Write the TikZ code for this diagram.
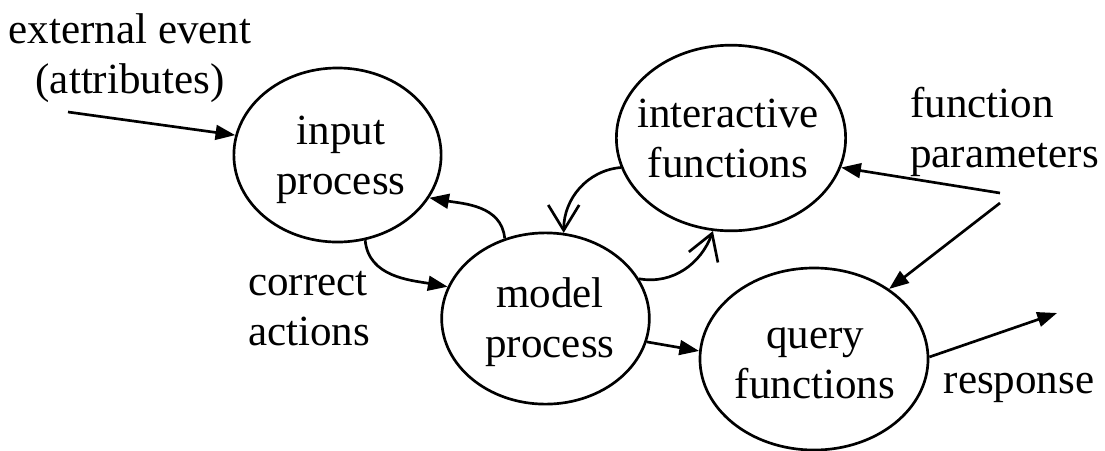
\documentclass[tikz,border=0pt]{standalone}
\usepackage{fontspec}
\setmainfont{Liberation Serif}
\usetikzlibrary{shapes.geometric,arrows.meta}

\begin{document}
\begin{tikzpicture}[
    x=0.025cm, y=-0.025cm,
    font=\fontsize{30.6}{35.6}\selectfont,
    arr/.style={-{Triangle[length=14pt,width=10.5pt]}, line width=1.9pt},
    barb/.style={-{Straight Barb[length=18pt,width=22pt]}, line width=1.9pt},
    proc/.style={draw, ellipse, line width=1.9pt, inner sep=0pt},
    txt/.style={inner sep=0pt, align=center}
]
\useasboundingbox (0,0) rectangle (1105,450);

\node[proc, minimum width=5.18cm, minimum height=4.35cm] (inp) at (337.5,155) {};
\node[proc, minimum width=5.19cm, minimum height=4.28cm] (mdl) at (545.5,318.5) {};
\node[proc, minimum width=5.73cm, minimum height=4.64cm] (itf) at (731,138) {};
\node[proc, minimum width=5.70cm, minimum height=4.55cm] (qry) at (814,359) {};

\node[txt] (inptext) at (341,160) {input\\process};
\node[txt] (mdltext) at (550,322) {model\\process};
\node[txt] (itftext) at (728,138.5) {interactive\\functions};
\node[txt] (qrytext) at (815,363) {query\\functions};

\node[txt] (exttext) at (130,58) {external event\\(attributes)};
\node[txt, align=left] (cortext) at (309,308.5) {correct\\actions};
\node[txt, align=left, anchor=west] (fptext) at (910,132) {function\\parameters};
\node[inner sep=0pt, anchor=base] (resptext) at (1019,393) {response};

\coordinate (ext) at (68,112);
\coordinate (fp1) at (1000,193);
\coordinate (fp2) at (1000,203);
\coordinate (resp) at (1057,313);

%------------------------------------------------
% connectors
%------------------------------------------------
\draw[arr] (ext) -- (inp.169);
\draw[arr] (inp.-72) to[out=-85,in=170] (mdl.162);
\draw[arr] (mdl.117) to[out=95,in=-10] (inp.-25);

\draw[barb] (itf.195) to[out=185,in=90] (mdl.78);
\draw[barb] (mdl.23) to[out=-10,in=-110] (itf.-101);

\draw[arr] (mdl.-13) -- (qry.176);
\draw[arr] (fp1) -- (itf.-15);
\draw[arr] (fp2) -- (qry.43);
\draw[arr] (qry.1) -- (resp);

\end{tikzpicture}
\end{document}
